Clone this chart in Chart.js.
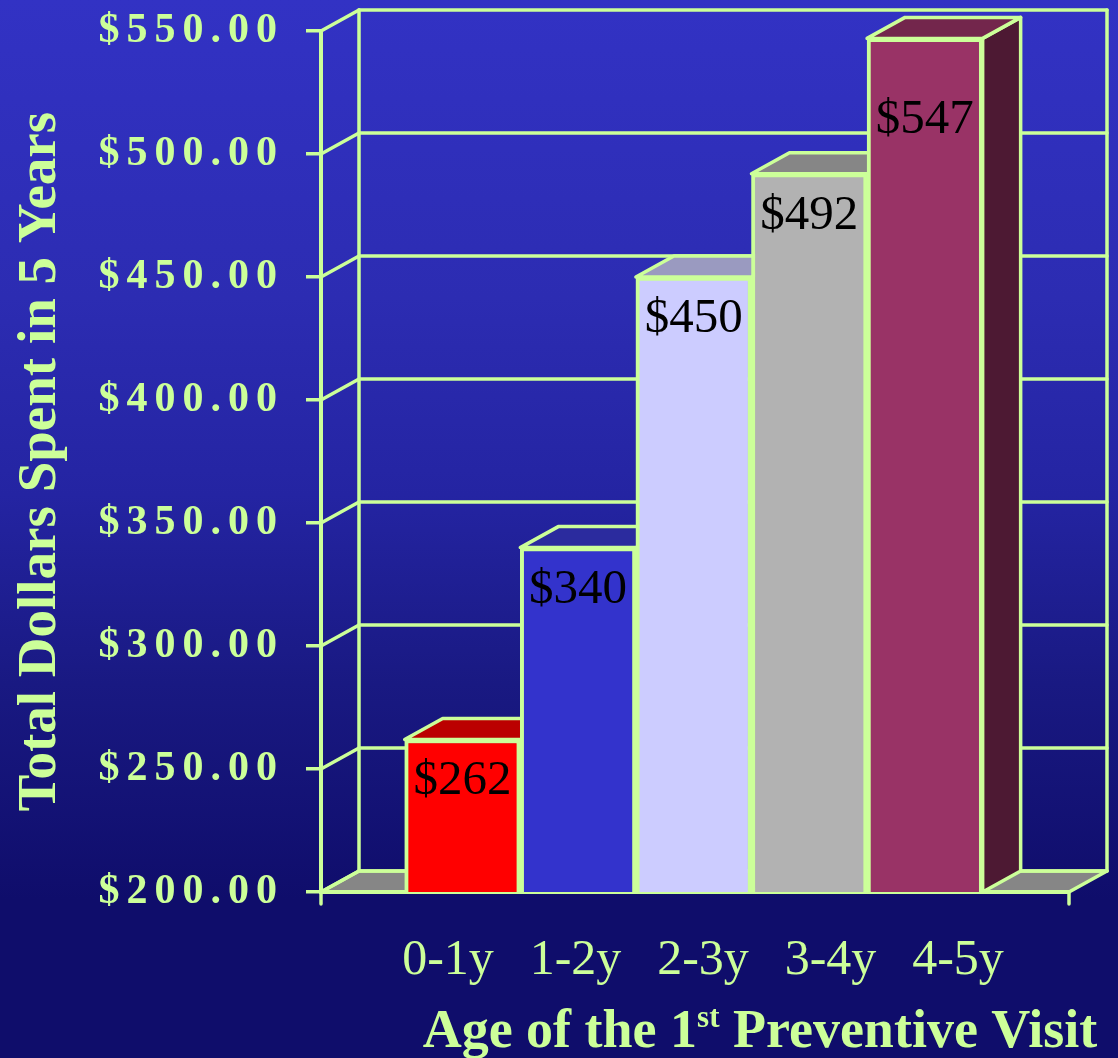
<!DOCTYPE html>
<html>
<head>
<meta charset="utf-8">
<title>Total Dollars Spent in 5 Years</title>
<script src="https://cdn.jsdelivr.net/npm/chart.js@4.4.1/dist/chart.umd.min.js"></script>
<style>
    html, body { margin: 0; padding: 0; background: #0f0d6b; }
    canvas { display: block; }
</style>
</head>
<body>
<canvas id="costChart" width="1118" height="1058"></canvas>
<script>
// ==========================
// DATA
// ==========================
const ageGroups = ["0-1y", "1-2y", "2-3y", "3-4y", "4-5y"];
const dollarsSpent = [262, 340, 450, 492, 547];
const yTicks = [200, 250, 300, 350, 400, 450, 500, 550];

// ==========================
// STYLE
// ==========================
const GREEN = "#ccff99";
const frontColors = ["#ff0000", "#3333cc", "#ccccff", "#b2b2b2", "#993366"];
const topColors = ["#bb0000", "#2b2b9e", "#9a9ac0", "#868686", "#73264c"];
const sideColors = ["#880000", "#222277", "#7a7a9a", "#5e5e5e", "#4d1933"];
const DX = 38;   // depth offset of the 3D box
const DY = 21;
const LW = 3.5;
const SERIF = "'Liberation Serif', 'Times New Roman', serif";

function line(ctx, x1, y1, x2, y2) {
    ctx.beginPath();
    ctx.moveTo(x1, y1);
    ctx.lineTo(x2, y2);
    ctx.stroke();
}

// ==========================
// 3D BOX, FACES, LABELS
// ==========================
const box3d = {
    id: "box3d",
    beforeDraw(chart) {
        const { ctx, width, height } = chart;
        const { x, y } = chart.scales;

        // background
        const g = ctx.createLinearGradient(0, 0, 0, 900);
        g.addColorStop(0, "#3232c4");
        g.addColorStop(0.33, "#2c2cb2");
        g.addColorStop(0.55, "#2424a2");
        g.addColorStop(0.76, "#191982");
        g.addColorStop(1, "#0f0d6b");
        ctx.save();
        ctx.fillStyle = g;
        ctx.fillRect(0, 0, width, height);

        const left = x.left, right = x.right;
        const yb = y.getPixelForValue(yTicks[0]);
        const yt = y.getPixelForValue(yTicks[yTicks.length - 1]);

        ctx.strokeStyle = GREEN;
        ctx.lineWidth = LW;
        ctx.lineCap = "round";
        ctx.lineJoin = "round";

        // floor
        ctx.fillStyle = "#868686";
        ctx.beginPath();
        ctx.moveTo(left, yb);
        ctx.lineTo(left + DX, yb - DY);
        ctx.lineTo(right + DX, yb - DY);
        ctx.lineTo(right, yb);
        ctx.closePath();
        ctx.fill();
        ctx.stroke();

        // back wall grid + side wall diagonals
        yTicks.forEach(v => {
            const py = y.getPixelForValue(v);
            line(ctx, left, py, left + DX, py - DY);
            line(ctx, left + DX, py - DY, right + DX, py - DY);
        });
        line(ctx, left + DX, yt - DY, left + DX, yb - DY);
        line(ctx, right + DX, yt - DY, right + DX, yb - DY);

        // little ticks at both ends of the category axis
        line(ctx, left, yb, left, yb + 12);
        line(ctx, right, yb, right, yb + 12);
        ctx.restore();

        // spaced-out money labels on the value axis
        ctx.letterSpacing = "7px";
    },
    beforeDatasetsDraw(chart) {
        const ctx = chart.ctx;
        ctx.letterSpacing = "0px";
        const meta = chart.getDatasetMeta(0);
        const base = chart.scales.y.getPixelForValue(yTicks[0]);
        ctx.save();
        ctx.strokeStyle = GREEN;
        ctx.lineWidth = LW;
        ctx.lineJoin = "round";
        meta.data.forEach((bar, i) => {
            const l = bar.x - bar.width / 2;
            const r = bar.x + bar.width / 2;
            // side
            ctx.fillStyle = sideColors[i];
            ctx.beginPath();
            ctx.moveTo(r, bar.y);
            ctx.lineTo(r + DX, bar.y - DY);
            ctx.lineTo(r + DX, base - DY);
            ctx.lineTo(r, base);
            ctx.closePath();
            ctx.fill();
            ctx.stroke();
            // top
            ctx.fillStyle = topColors[i];
            ctx.beginPath();
            ctx.moveTo(l, bar.y);
            ctx.lineTo(l + DX, bar.y - DY);
            ctx.lineTo(r + DX, bar.y - DY);
            ctx.lineTo(r, bar.y);
            ctx.closePath();
            ctx.fill();
            ctx.stroke();
        });
        ctx.restore();
    },
    afterDatasetsDraw(chart) {
        const { ctx, chartArea } = chart;
        const meta = chart.getDatasetMeta(0);
        ctx.save();
        ctx.font = "49px " + SERIF;
        ctx.fillStyle = "#000";
        ctx.textAlign = "center";
        ctx.textBaseline = "alphabetic";
        meta.data.forEach((bar, i) => {
            const by = Math.max(bar.y + 55, chartArea.top + 102);
            ctx.fillText("$" + dollarsSpent[i], bar.x, by);
        });
        ctx.restore();
    },
    afterDraw(chart) {
        // category axis title with superscript "st"
        const ctx = chart.ctx;
        const parts = [
            { t: "Age of the 1", size: 54, rise: 0 },
            { t: "st", size: 31, rise: 20 },
            { t: " Preventive Visit", size: 54, rise: 0 }
        ];
        ctx.save();
        ctx.fillStyle = GREEN;
        ctx.textBaseline = "alphabetic";
        ctx.textAlign = "left";
        let total = 0;
        parts.forEach(p => {
            ctx.font = "bold " + p.size + "px " + SERIF;
            p.w = ctx.measureText(p.t).width;
            total += p.w;
        });
        let px = 760 - total / 2;
        parts.forEach(p => {
            ctx.font = "bold " + p.size + "px " + SERIF;
            ctx.fillText(p.t, px, 1047 - p.rise);
            px += p.w;
        });
        ctx.restore();
    }
};

// ==========================
// CHART
// ==========================
new Chart(document.getElementById("costChart"), {
    type: "bar",
    data: {
        datasets: [
            {
                label: "Total Dollars Spent in 5 Years",
                data: dollarsSpent.map((v, i) => ({ x: i, y: v })),
                backgroundColor: frontColors,
                borderColor: GREEN,
                borderWidth: 4,
                borderSkipped: false,
                barPercentage: 1,
                categoryPercentage: 1
            }
        ]
    },
    options: {
        responsive: false,
        animation: false,
        devicePixelRatio: 1,
        layout: { padding: { top: 31, right: 49, bottom: 0, left: 0 } },
        plugins: {
            legend: { display: false },
            tooltip: { enabled: false }
        },
        scales: {
            x: {
                type: "linear",
                position: "bottom",
                offset: false,
                min: -1.224,
                max: 5.247,
                ticks: { display: false },
                grid: { display: false, drawTicks: false, offset: false },
                border: { display: true, color: GREEN, width: 4 },
                afterFit: s => { s.height = 0; }
            },
            xl: {
                type: "linear",
                position: "bottom",
                weight: 1,
                offset: false,
                min: -0.996,
                max: 4.871,
                grid: { display: false, drawTicks: false, offset: false },
                border: { display: false },
                ticks: {
                    z: 1,
                    color: GREEN,
                    font: { family: SERIF, size: 50 },
                    padding: 39,
                    autoSkip: false,
                    maxRotation: 0,
                    callback: v => ageGroups[v] ?? ""
                },
                afterBuildTicks: s => { s.ticks = ageGroups.map((_, i) => ({ value: i })); },
                afterFit: s => { s.height = 166; s.paddingLeft = 0; s.paddingRight = 0; }
            },
            y: {
                position: "left",
                min: 200,
                max: 550,
                grid: {
                    drawOnChartArea: false,
                    color: GREEN,
                    lineWidth: 3.5,
                    tickLength: 15
                },
                border: { display: true, color: GREEN, width: 4 },
                ticks: {
                    color: GREEN,
                    font: { family: SERIF, size: 42, weight: "bold" },
                    padding: 22,
                    callback: v => "$" + v.toFixed(2)
                },
                afterBuildTicks: s => { s.ticks = yTicks.map(v => ({ value: v })); },
                afterFit: s => { s.width = 241; s.paddingTop = 0; s.paddingBottom = 0; }
            },
            yt: {
                position: "left",
                weight: 1,
                ticks: { display: false },
                grid: { display: false, drawTicks: false, z: 1 },
                border: { display: false },
                title: {
                    display: true,
                    text: "Total Dollars Spent in 5 Years",
                    color: GREEN,
                    font: { family: SERIF, size: 55, weight: "bold" },
                    padding: { top: 8, bottom: 0 }
                },
                afterFit: s => { s.width = 80; }
            }
        }
    },
    plugins: [box3d]
});
</script>
</body>
</html>
